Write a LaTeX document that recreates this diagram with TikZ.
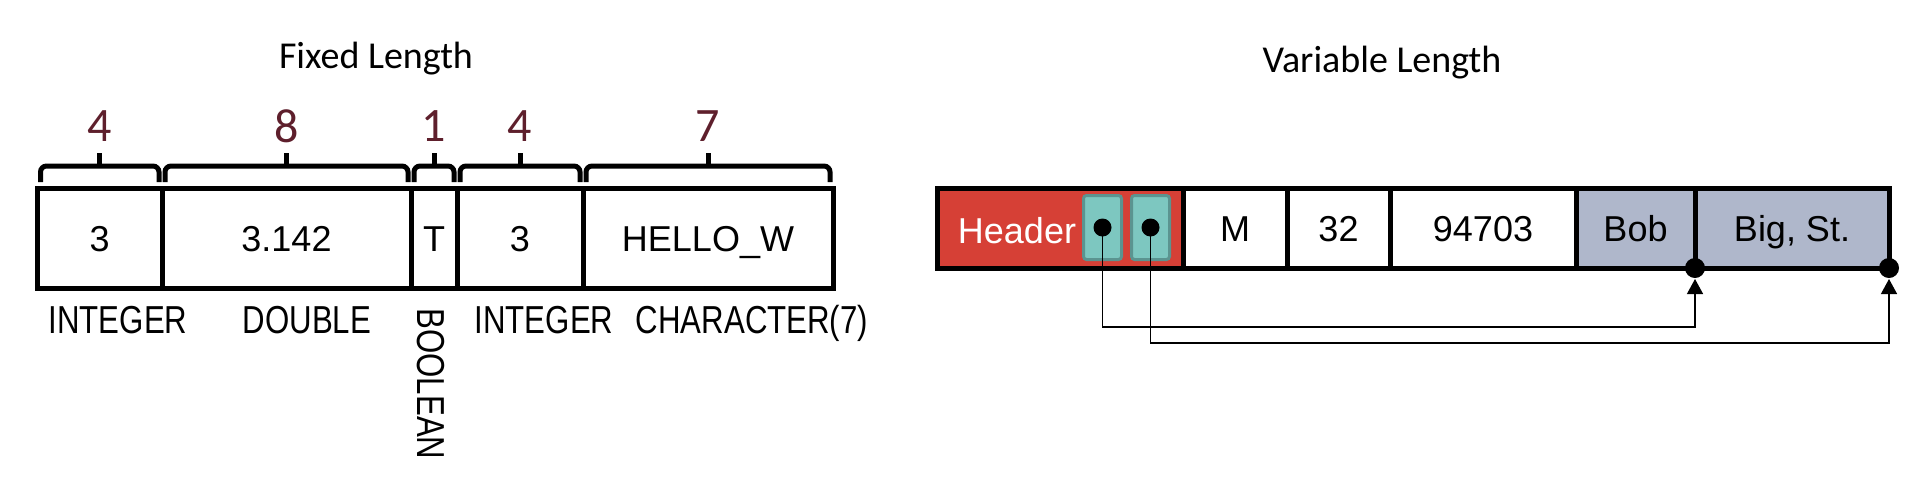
\documentclass[tikz,border=0pt]{standalone}
\usepackage{fontspec}
\setmainfont{Liberation Sans}
\newfontfamily\calfont{Carlito}
\newfontfamily\narrowfont[FakeStretch=0.8]{Liberation Sans}
\usepackage{tikz}
\usetikzlibrary{positioning,arrows.meta}
\definecolor{bytered}{HTML}{5E1F2C}
\definecolor{hdrred}{HTML}{D64036}
\definecolor{slotteal}{HTML}{7DC7C0}
\definecolor{slotedge}{HTML}{5B9490}
\definecolor{varblue}{HTML}{AFB7CB}

\begin{document}
\begin{tikzpicture}[x=0.5pt,y=-0.5pt,
    every node/.style={inner sep=0pt,outer sep=0pt},
    cell/.style={rectangle,draw=black,line width=2.5pt,minimum height=50pt,
      text height=13pt,text depth=0pt,font=\fontsize{18}{20}\selectfont},
    vcell/.style={cell,minimum height=40pt},
    brc/.style={draw=black,line width=2.5pt,rounded corners=3pt},
    bytes/.style={font=\calfont\fontsize{24}{28}\selectfont,text=bytered},
    typ/.style={font=\narrowfont\fontsize{19.5}{22}\selectfont},
    ttl/.style={font=\calfont\fontsize{19}{22}\selectfont},
    slot/.style={rectangle,draw=slotedge,fill=slotteal,line width=1.5pt,
      minimum width=19pt,minimum height=32pt,rounded corners=1.5pt},
    ptr/.style={line width=0.7pt,-{Triangle[width=8pt,length=7.5pt]}}]
  \useasboundingbox (0,0) rectangle (1912,494);

  % fixed length record
  \node[ttl,anchor=base] (fixttl) at (376,68) {Fixed Length};
  \node[cell,minimum width=62.25pt] (int1) at (99.75,238) {3};
  \node[cell,minimum width=124.5pt,right=0pt of int1] (dbl) {3.142};
  \node[cell,minimum width=23pt,right=0pt of dbl] (bool) {T};
  \node[cell,minimum width=63pt,right=0pt of bool] (int2) {3};
  \node[cell,minimum width=125pt,right=0pt of int2] (chr) {HELLO\_W};

  \foreach \c/\n in {int1/4,dbl/8,bool/1,int2/4,chr/7} {
    \draw[brc] ([xshift=1.5pt,yshift=3pt]\c.north west) |- ([yshift=11pt]\c.north)
      -| ([xshift=-1.5pt,yshift=3pt]\c.north east);
    \draw[brc] ([yshift=11pt]\c.north) -- ([yshift=17.75pt]\c.north);
    \node[bytes] at ([yshift=31pt]\c.north) {\n};
  }

  \node[typ,anchor=base] (tint1) at (118,333) {INTEGER};
  \node[typ,anchor=base] (tdbl) at (307,333) {DOUBLE};
  \node[typ,rotate=-90] (tbool) at (431,384) {BOOLEAN};
  \node[typ,anchor=base] (tint2) at (544,333) {INTEGER};
  \node[typ,anchor=base] (tchr) at (752,333) {CHARACTER(7)};

  % variable length record
  \node[ttl,anchor=base] (varttl) at (1382,72) {Variable Length};
  \node[vcell,fill=hdrred,minimum width=123pt] (hdr) at (1060,228) {};
  \node[vcell,minimum width=52pt,right=0pt of hdr] (sex) {M};
  \node[vcell,minimum width=51.5pt,right=0pt of sex] (age) {32};
  \node[vcell,minimum width=93pt,right=0pt of age] (zip) {94703};
  \node[vcell,fill=varblue,minimum width=59.5pt,right=0pt of zip] (name) {Bob};
  \node[vcell,fill=varblue,minimum width=97pt,right=0pt of name] (addr) {Big, St.};

  \node[anchor=base,text=white,font=\fontsize{18}{20}\selectfont] (hdrtxt) at (1017,243) {Header};
  \node[slot] (ptr1) at (1102.5,227.5) {};
  \node[slot] (ptr2) at (1150.5,227.5) {};
  \fill (ptr1.center) circle (4.5pt);
  \fill (ptr2.center) circle (4.5pt);
  \fill (name.south east) circle (5pt);
  \fill (addr.south east) circle (5pt);

  \coordinate (lane1) at (1100,327);
  \coordinate (lane2) at (1150,343);
  \draw[ptr] (ptr1.center) -- (ptr1.center |- lane1) -| ([yshift=-5.5pt]name.south east);
  \draw[ptr] (ptr2.center) -- (ptr2.center |- lane2) -| ([yshift=-5.5pt]addr.south east);
\end{tikzpicture}
\end{document}
